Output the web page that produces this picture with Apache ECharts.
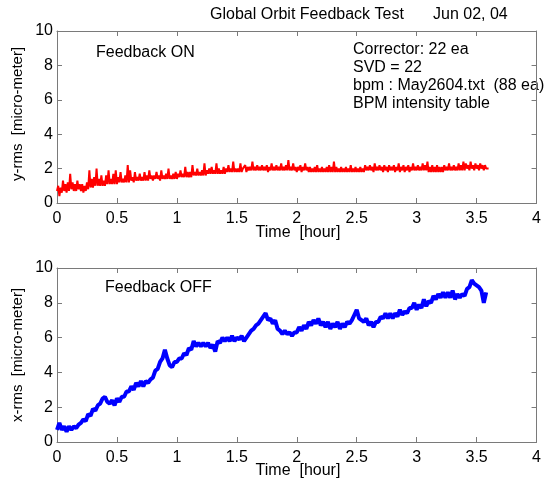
<!DOCTYPE html>
<html>
<head>
<meta charset="utf-8">
<script src="https://cdn.jsdelivr.net/npm/echarts@6/dist/echarts.min.js"></script>
<style>
  html, body { margin: 0; padding: 0; background: #fff; }
  #main { width: 544px; height: 483px; }
</style>
</head>
<body>
<div id="main"></div>
<script>
// sampling steps of the recorded data [hour]
const STEP_ON = 0.01;
const STEP_OFF = 0.02;

// y-rms with feedback ON [micro-meter], one value every 0.01 h
const yRmsOn = [
  0.7, 1.0, 0.4, 0.9, 0.6, 1.3, 0.7, 1.1, 0.6, 1.2,
  0.7, 1.7, 0.8, 1.2, 0.7, 1.1, 0.7, 1.3, 0.8, 1.1,
  0.7, 1.1, 0.6, 1.0, 0.7, 1.2, 0.8, 1.9, 0.9, 1.4,
  0.9, 1.5, 1.0, 2.0, 1.0, 1.4, 1.0, 1.6, 1.0, 1.3,
  1.0, 1.6, 1.1, 1.9, 1.1, 1.4, 1.1, 1.7, 1.1, 1.9,
  1.1, 1.5, 1.2, 1.8, 1.2, 1.4, 1.2, 1.6, 1.2, 2.2,
  1.2, 1.9, 1.3, 1.5, 1.2, 1.8, 1.3, 1.5, 1.3, 1.7,
  1.3, 1.5, 1.3, 1.8, 1.3, 1.6, 1.3, 1.9, 1.4, 1.6,
  1.3, 1.6, 1.4, 1.8, 1.4, 1.6, 1.3, 1.9, 1.4, 1.6,
  1.4, 1.7, 1.4, 2.0, 1.4, 1.6, 1.4, 1.7, 1.4, 1.8,
  1.4, 1.7, 1.5, 1.9, 1.5, 1.7, 1.5, 2.1, 1.5, 1.8,
  1.5, 1.8, 1.5, 2.2, 1.6, 1.8, 1.6, 2.0, 1.6, 1.8,
  1.6, 1.9, 1.6, 2.3, 1.6, 1.9, 1.7, 2.0, 1.7, 2.1,
  1.7, 1.9, 1.7, 2.3, 1.7, 2.0, 1.7, 1.9, 1.7, 2.1,
  1.7, 2.0, 1.8, 2.2, 1.8, 2.0, 1.8, 2.4, 1.8, 2.0,
  1.8, 2.0, 1.8, 2.3, 1.8, 2.0, 1.9, 2.2, 1.8, 2.1,
  1.9, 2.1, 1.9, 2.4, 1.9, 2.1, 1.9, 2.2, 1.9, 2.1,
  1.9, 2.2, 1.9, 2.1, 1.9, 2.2, 1.8, 2.1, 1.9, 2.3,
  1.9, 2.1, 1.9, 2.2, 1.9, 2.1, 1.9, 2.3, 1.9, 2.1,
  1.9, 2.2, 1.9, 2.5, 1.9, 2.1, 1.9, 2.3, 1.9, 2.1,
  1.8, 2.1, 1.9, 2.2, 1.8, 2.1, 1.9, 2.3, 1.9, 2.1,
  1.8, 2.1, 1.8, 2.0, 1.8, 2.1, 1.8, 2.2, 1.8, 2.0,
  1.8, 2.1, 1.8, 2.0, 1.8, 2.1, 1.8, 2.2, 1.8, 2.1,
  1.8, 2.4, 1.8, 2.1, 1.8, 2.0, 1.8, 2.1, 1.8, 2.0,
  1.8, 2.1, 1.8, 2.0, 1.8, 2.2, 1.8, 2.0, 1.8, 2.1,
  1.8, 2.0, 1.8, 2.1, 1.8, 2.0, 1.8, 2.2, 1.9, 2.1,
  1.9, 2.2, 1.9, 2.1, 1.8, 2.3, 1.9, 2.1, 1.9, 2.2,
  1.9, 2.1, 1.8, 2.2, 1.9, 2.1, 1.8, 2.2, 1.9, 2.1,
  1.9, 2.2, 1.8, 2.1, 1.9, 2.3, 1.8, 2.1, 1.9, 2.2,
  1.8, 2.1, 1.9, 2.2, 1.8, 2.1, 1.9, 2.3, 1.9, 2.1,
  1.9, 2.2, 1.9, 2.1, 1.9, 2.3, 1.9, 2.2, 1.9, 2.4,
  1.8, 2.1, 1.8, 2.2, 1.8, 2.1, 1.8, 2.2, 1.8, 2.1,
  1.8, 2.1, 1.8, 2.2, 1.9, 2.1, 1.9, 2.3, 1.9, 2.1,
  1.9, 2.2, 1.9, 2.1, 1.9, 2.3, 1.9, 2.2, 1.9, 2.4,
  1.9, 2.3, 2.0, 2.2, 1.9, 2.4, 2.0, 2.2, 1.9, 2.3,
  2.0, 2.2, 1.9, 2.3, 2.0, 2.2, 1.9, 2.2, 2.0, 2.1,
  2.0
];

// x-rms with feedback OFF [micro-meter], one value every 0.02 h
const xRmsOff = [
  0.7, 1.1, 0.7, 0.9, 0.6, 0.9, 0.7, 0.9, 0.8, 1.0,
  1.1, 1.3, 1.2, 1.6, 1.5, 1.9, 1.8, 2.1, 2.2, 2.5,
  2.6, 2.3, 2.2, 2.4, 2.1, 2.5, 2.3, 2.6, 2.6, 2.9,
  2.9, 3.2, 3.0, 3.4, 3.2, 3.5, 3.2, 3.5, 3.4, 3.6,
  3.7, 4.1, 4.2, 4.6, 4.8, 5.3, 4.8, 4.4, 4.3, 4.6,
  4.6, 4.8, 4.8, 5.1, 5.0, 5.4, 5.3, 5.8, 5.5, 5.7,
  5.5, 5.7, 5.5, 5.7, 5.4, 5.6, 5.2, 5.8, 5.7, 6.0,
  5.8, 6.0, 5.8, 6.1, 5.8, 6.0, 5.9, 6.1, 5.8, 6.0,
  6.2, 6.4, 6.5, 6.7, 6.8, 7.0, 7.2, 7.4, 7.0, 7.1,
  6.8, 7.0, 6.5, 6.4, 6.2, 6.4, 6.2, 6.3, 6.1, 6.3,
  6.3, 6.6, 6.4, 6.7, 6.5, 6.9, 6.7, 7.0, 6.8, 7.1,
  6.7, 6.9, 6.6, 6.9, 6.5, 6.8, 6.6, 6.9, 6.5, 6.8,
  6.6, 6.9, 6.8, 7.0, 7.3, 7.6, 7.1, 7.0, 6.9, 7.1,
  6.7, 6.9, 6.6, 6.9, 6.9, 7.2, 7.1, 7.4, 7.1, 7.4,
  7.1, 7.4, 7.2, 7.6, 7.3, 7.5, 7.4, 7.7, 7.7, 8.0,
  7.6, 7.9, 7.7, 8.2, 7.8, 8.1, 8.0, 8.4, 8.2, 8.5,
  8.3, 8.6, 8.3, 8.6, 8.3, 8.7, 8.2, 8.5, 8.3, 8.5,
  8.4, 8.8, 8.9, 9.3, 9.1, 9.0, 8.9, 8.7, 8.0, 8.6
];

const xTicks = [0, 0.5, 1, 1.5, 2, 2.5, 3, 3.5, 4];
const yTicks = [0, 2, 4, 6, 8, 10];

const titleText = 'Global Orbit Feedback Test';
const dateText = 'Jun 02, 04';
const infoLines = ['Corrector: 22 ea', 'SVD = 22', 'bpm : May2604.txt  (88 ea)', 'BPM intensity table'];

const FONT = '"Liberation Sans", Arial, sans-serif';
const AXIS_GRAY = '#7a7a7a';

function pairs(values, step) {
  return values.map((v, i) => [+(i * step).toFixed(2), v]);
}

const chart = echarts.init(document.getElementById('main'), null, { renderer: 'canvas' });

function xAxisFor(grid, top) {
  return {
    type: 'value', gridIndex: grid, position: top ? 'top' : 'bottom',
    min: xTicks[0], max: xTicks[xTicks.length - 1], interval: 0.5,
    axisLine: { show: true, onZero: false, lineStyle: { color: AXIS_GRAY, width: 1 } },
    axisTick: { show: true, inside: true, length: 5, lineStyle: { color: AXIS_GRAY } },
    axisLabel: { show: !top, color: '#000', fontSize: 16, fontFamily: FONT, margin: 8 },
    splitLine: { show: false }
  };
}
function yAxisFor(grid, right) {
  return {
    type: 'value', gridIndex: grid, position: right ? 'right' : 'left',
    min: yTicks[0], max: yTicks[yTicks.length - 1], interval: 2,
    axisLine: { show: true, onZero: false, lineStyle: { color: AXIS_GRAY, width: 1 } },
    axisTick: { show: true, inside: true, length: 5, lineStyle: { color: AXIS_GRAY } },
    axisLabel: { show: !right, color: '#000', fontSize: 16, fontFamily: FONT, margin: 4 },
    splitLine: { show: false }
  };
}

function label(text, x, y, extra) {
  return {
    type: 'text', x: x, y: y,
    style: Object.assign({ text: text, fill: '#000', fontSize: 16, fontFamily: FONT, verticalAlign: 'middle' }, extra || {})
  };
}

var option = {
  backgroundColor: '#fff',
  animation: false,
  grid: [
    { left: 57, right: 4, top: 31, height: 172 },
    { left: 57, right: 4, top: 268, height: 174 }
  ],
  xAxis: [xAxisFor(0, false), xAxisFor(1, false), xAxisFor(0, true), xAxisFor(1, true)],
  yAxis: [yAxisFor(0, false), yAxisFor(1, false), yAxisFor(0, true), yAxisFor(1, true)],
  series: [
    {
      name: 'y-rms', type: 'line', xAxisIndex: 0, yAxisIndex: 0,
      data: pairs(yRmsOn, STEP_ON), showSymbol: false,
      lineStyle: { color: '#ff0000', width: 2 }
    },
    {
      name: 'x-rms', type: 'line', xAxisIndex: 1, yAxisIndex: 1,
      data: pairs(xRmsOff, STEP_OFF), showSymbol: false,
      lineStyle: { color: '#0000ff', width: 4 }
    }
  ],
  graphic: [
    label(titleText, 210, 15),
    label(dateText, 433, 15),
    label('Feedback ON', 96, 53),
    label('Feedback OFF', 105, 288),
    label(infoLines.join('\n'), 353, 77, { lineHeight: 18 }),
    label('Time  [hour]', 298, 233, { align: 'center' }),
    label('Time  [hour]', 298, 471, { align: 'center' }),
    Object.assign(label('y-rms  [micro-meter]', 18, 114, { align: 'center', fontSize: 15 }), { rotation: Math.PI / 2 }),
    Object.assign(label('x-rms  [micro-meter]', 18, 355, { align: 'center', fontSize: 15 }), { rotation: Math.PI / 2 })
  ]
};

chart.setOption(option);
</script>
</body>
</html>
